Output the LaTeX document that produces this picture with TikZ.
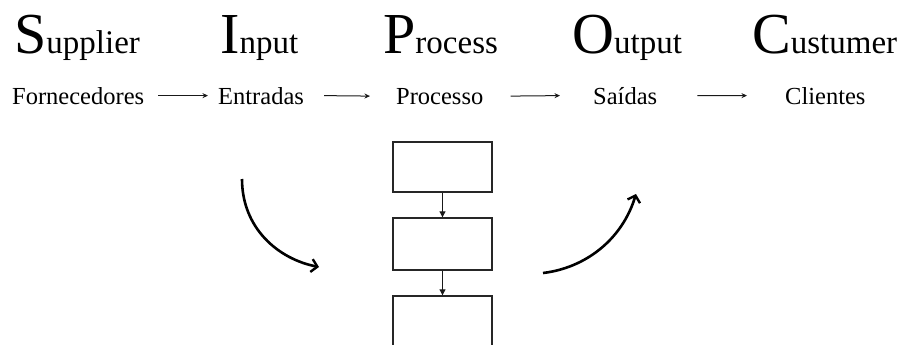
\documentclass[tikz,border=0pt]{standalone}
\usepackage{fontspec}
\setmainfont{Liberation Serif}
\usetikzlibrary{arrows.meta}
\newcommand{\initialtxt}[1]{{\fontsize{58}{60}\selectfont #1}}
\newcommand{\resttxt}[1]{{\fontsize{33}{36}\selectfont #1}}
\tikzset{
  titletxt/.style={anchor=base west, inner sep=0pt, text=black},
  wordtxt/.style={anchor=base west, inner sep=0pt, font=\fontsize{24.5}{26}\selectfont, text=black},
  flowarrow/.style={-{Stealth[length=5.5pt,width=5pt]}, line width=1pt, black!90},
  stepbox/.style={draw=black!85, line width=1.4pt, minimum width=99pt, minimum height=50pt, inner sep=0pt},
  boxarrow/.style={-{Triangle[length=6pt,width=6pt]}, line width=1.1pt, black!90},
  curvearrow/.style={-{Straight Barb[length=6pt,width=13pt,line width=2.4pt]}, line width=2.6pt, black}
}
\begin{document}
\begin{tikzpicture}[x=1pt,y=-1pt]
\useasboundingbox (0,0) rectangle (904,345);
\clip (0,0) rectangle (904,345);
% titles
\node[titletxt] (tS) at (14,54) {\initialtxt{S}\resttxt{upplier}};
\node[titletxt] (tI) at (220,54) {\initialtxt{I}\resttxt{nput}};
\node[titletxt] (tP) at (383,54) {\initialtxt{P}\resttxt{rocess}};
\node[titletxt] (tO) at (572,54) {\initialtxt{O}\resttxt{utput}};
\node[titletxt] (tC) at (752,54) {\initialtxt{C}\resttxt{ustumer}};
% row 2
\node[wordtxt] (forn) at (12,104) {Fornecedores};
\node[wordtxt] (entr) at (218,104) {Entradas};
\node[wordtxt] (proc) at (396,104) {Processo};
\node[wordtxt] (said) at (593,104) {Saídas};
\node[wordtxt] (clie) at (785,104) {Clientes};
\draw[flowarrow] ([xshift=14pt]forn.east) -- ([xshift=-10pt]entr.west);
\draw[flowarrow] ([xshift=20pt]entr.east) -- ([xshift=-26pt]proc.west);
\draw[flowarrow] ([xshift=27pt]proc.east) -- ([xshift=-33pt]said.west);
\draw[flowarrow] ([xshift=40pt]said.east) -- ([xshift=-38pt]clie.west);
% process boxes
\node[stepbox] (b1) at (442.5,167) {};
\node[stepbox, minimum height=52pt] (b2) at (442.5,244) {};
\node[stepbox, minimum height=54pt] (b3) at (442.5,323) {};
\draw[boxarrow] (b1.south) -- (b2.north);
\draw[boxarrow] (b2.south) -- (b3.north);
% curved arrows
\coordinate (inA) at (242,179);
\coordinate (inB) at (319,267);
\coordinate (outA) at (543,273);
\coordinate (outB) at (636,194);
\draw[curvearrow] (inA) .. controls (242,228) and (278,259) .. (inB);
\draw[curvearrow] (outA) .. controls (585,268) and (622,240) .. (outB);
\end{tikzpicture}
\end{document}
